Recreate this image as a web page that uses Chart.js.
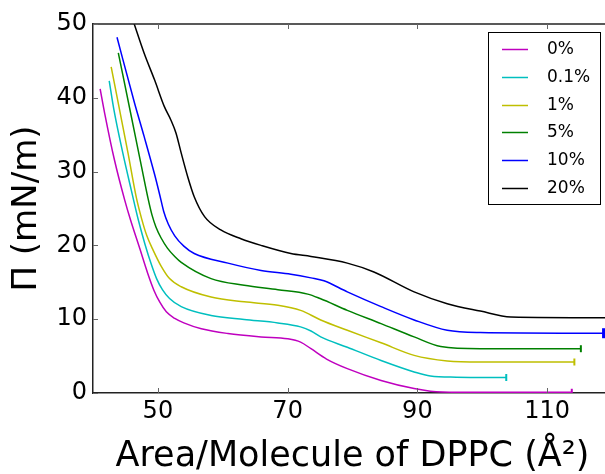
<!DOCTYPE html>
<html>
<head>
<meta charset="utf-8">
<script src="https://cdn.jsdelivr.net/npm/chart.js@4.4.0/dist/chart.umd.min.js"></script>
<style>
  html, body { margin: 0; padding: 0; background: #fff; overflow: hidden; }
</style>
</head>
<body>
<canvas id="isotherm" width="620" height="480"></canvas>
<script>
// surface pressure isotherms, one pair of arrays per concentration
const seriesLabels = ['0%', '0.1%', '1%', '5%', '10%', '20%'];

const area0 = [41.1, 41.8, 43.3, 44.9, 45.8, 47.2, 48.4, 49.4, 50.3, 51.3, 52.6, 54.0, 56.7, 60.8, 65.9, 70.0, 72.0, 73.6, 76.0, 79.2, 84.4, 89.5, 92.0, 96.0, 113.8];
const pi0   = [41.2, 37.9, 31.6, 26.1, 23.4, 19.6, 16.3, 13.9, 12.3, 11.0, 10.1, 9.5, 8.7, 8.06, 7.6, 7.35, 6.9, 6.0, 4.6, 3.3, 1.7, 0.6, 0.25, 0.1, 0.1];

const area01 = [42.5, 43.2, 44.6, 45.9, 47.0, 48.0, 49.0, 49.8, 50.7, 51.8, 53.6, 58.2, 63.3, 68.5, 72.0, 73.6, 75.1, 79.2, 84.4, 89.5, 92.0, 96.0, 103.7];
const pi01   = [42.3, 38.5, 32.5, 27.5, 23.4, 20.2, 17.4, 15.5, 14.0, 12.8, 11.7, 10.5, 9.96, 9.5, 8.96, 8.4, 7.6, 6.2, 4.4, 2.85, 2.3, 2.15, 2.1];

const area1 = [42.8, 44.0, 45.4, 46.7, 47.5, 48.3, 49.3, 50.5, 51.8, 53.6, 58.2, 63.3, 68.5, 72.0, 75.1, 79.2, 84.4, 89.5, 94.6, 99.7, 114.2];
const pi1   = [44.2, 38.8, 32.5, 26.4, 23.6, 21.3, 19.3, 17.2, 15.5, 14.4, 13.0, 12.35, 11.9, 11.2, 9.9, 8.5, 6.8, 5.1, 4.35, 4.2, 4.2];

const area5 = [43.9, 45.9, 47.4, 48.5, 49.1, 49.7, 50.5, 51.5, 52.6, 53.6, 58.2, 63.3, 68.5, 73.1, 75.0, 79.2, 84.4, 89.5, 93.6, 99.7, 115.2];
const pi5   = [46.1, 37.5, 31.0, 26.3, 24.1, 22.5, 21.0, 19.6, 18.5, 17.7, 15.5, 14.6, 14.0, 13.4, 12.8, 11.2, 9.4, 7.6, 6.3, 6.0, 6.0];

const area10 = [43.7, 46.4, 47.9, 49.5, 50.3, 50.9, 51.6, 52.6, 54.0, 55.6, 60.8, 65.9, 70.5, 73.6, 75.6, 79.2, 84.4, 89.5, 94.6, 99.7, 118.7];
const pi10   = [48.2, 39.3, 34.7, 29.6, 26.8, 24.6, 22.9, 21.3, 19.9, 18.9, 17.6, 16.6, 16.1, 15.6, 15.2, 13.7, 11.7, 9.9, 8.5, 8.2, 8.1];

const area20 = [46.2, 47.9, 49.5, 51.0, 52.0, 52.8, 53.6, 54.6, 55.6, 57.2, 59.7, 62.8, 65.9, 70.5, 73.6, 79.2, 83.3, 89.5, 94.6, 99.7, 104.4, 120.0];
const pi20   = [50.4, 46.0, 42.4, 38.8, 37.0, 35.2, 32.5, 29.3, 26.6, 23.9, 22.1, 20.9, 20.0, 18.9, 18.5, 17.6, 16.4, 13.7, 12.1, 11.1, 10.3, 10.2];

const xTickValues = [50, 70, 90, 110];
const yTickValues = [0, 10, 20, 30, 40, 50];

const colors = ['#bf00bf', '#00bfbf', '#bfbf00', '#008000', '#0000ff', '#000000'];
const areas = [area0, area01, area1, area5, area10, area20];
const pis = [pi0, pi01, pi1, pi5, pi10, pi20];

const datasets = seriesLabels.map((label, i) => {
    const last = areas[i].length - 1;
    return {
        label: label,
        data: areas[i].map((a, j) => ({x: a, y: pis[i][j]})),
        borderColor: colors[i],
        backgroundColor: colors[i],
        borderWidth: 1.5,
        cubicInterpolationMode: 'monotone',
        pointStyle: 'line',
        rotation: 90,
        pointRadius: ctx => (ctx.dataIndex === last && i < 5) ? (i === 4 ? 5 : 3.5) : 0,
        pointBorderWidth: i === 4 ? 3 : 2,
        pointBorderColor: colors[i]
    };
});

// inward ticks + top frame, like the old matplotlib look
const frameTicks = {
    id: 'frameTicks',
    afterDatasetsDraw(chart) {
        const {ctx, chartArea: a, scales: {x, y}} = chart;
        ctx.save();
        ctx.strokeStyle = '#222';
        ctx.lineWidth = 1.5;
        ctx.beginPath();
        ctx.moveTo(a.left, a.top);
        ctx.lineTo(a.right, a.top);
        ctx.stroke();
        ctx.strokeStyle = '#666';
        ctx.lineWidth = 1;
        ctx.beginPath();
        xTickValues.forEach(v => {
            const px = Math.round(x.getPixelForValue(v)) + 0.5;
            ctx.moveTo(px, a.bottom); ctx.lineTo(px, a.bottom - 5);
            ctx.moveTo(px, a.top); ctx.lineTo(px, a.top + 5);
        });
        yTickValues.forEach(v => {
            const py = Math.round(y.getPixelForValue(v)) + 0.5;
            ctx.moveTo(a.left, py); ctx.lineTo(a.left + 5, py);
            ctx.moveTo(a.right, py); ctx.lineTo(a.right - 5, py);
        });
        ctx.stroke();
        ctx.restore();
    }
};

// boxed legend in the upper right corner
const boxLegend = {
    id: 'boxLegend',
    afterDraw(chart) {
        const ctx = chart.ctx;
        ctx.save();
        ctx.fillStyle = '#fff';
        ctx.fillRect(488, 32, 113, 173);
        ctx.strokeStyle = '#000';
        ctx.lineWidth = 1;
        ctx.strokeRect(488.5, 32.5, 112, 172);
        ctx.font = '17px "DejaVu Sans"';
        ctx.textBaseline = 'middle';
        ctx.textAlign = 'left';
        chart.data.datasets.forEach((ds, i) => {
            const yy = Math.round(49 + i * 27.8) + 0.5;
            ctx.strokeStyle = ds.borderColor;
            ctx.lineWidth = 1.5;
            ctx.beginPath();
            ctx.moveTo(502, yy);
            ctx.lineTo(528, yy);
            ctx.stroke();
            ctx.fillStyle = '#000';
            ctx.fillText(ds.label, 547, yy);
        });
        ctx.restore();
    }
};

new Chart(
    document.getElementById('isotherm'),
    {
        type: 'line',
        data: { datasets: datasets },
        plugins: [frameTicks, boxLegend],
        options: {
            responsive: false,
            animation: false,
            events: [],
            layout: { padding: { top: 24, right: 8, left: 0, bottom: 0 } },
            plugins: {
                legend: { display: false },
                tooltip: { enabled: false }
            },
            scales: {
                x: {
                    type: 'linear',
                    min: 40,
                    max: 120,
                    afterBuildTicks: scale => { scale.ticks = xTickValues.map(v => ({value: v})); },
                    afterFit: scale => { scale.height = 87; },
                    grid: { display: false, drawTicks: false },
                    border: { display: true, color: '#222', width: 1.5 },
                    ticks: {
                        color: '#000',
                        padding: 4,
                        maxRotation: 0,
                        font: { family: 'DejaVu Sans', size: 24 }
                    },
                    title: {
                        display: true,
                        text: 'Area/Molecule of DPPC (Å²)',
                        color: '#000',
                        padding: { top: 4, bottom: 2 },
                        font: { family: 'DejaVu Sans', size: 35 }
                    }
                },
                y: {
                    min: 0,
                    max: 50,
                    afterBuildTicks: scale => { scale.ticks = yTickValues.map(v => ({value: v})); },
                    afterFit: scale => { scale.width = 93; },
                    grid: { display: false, drawTicks: false },
                    border: { display: true, color: '#222', width: 1.5 },
                    ticks: {
                        color: '#000',
                        padding: 6,
                        font: { family: 'DejaVu Sans', size: 24 }
                    },
                    title: {
                        display: true,
                        text: 'Π (mN/m)',
                        color: '#000',
                        padding: { top: 7, bottom: 0 },
                        font: { family: 'DejaVu Sans', size: 34 }
                    }
                }
            }
        }
    }
);
</script>
</body>
</html>
